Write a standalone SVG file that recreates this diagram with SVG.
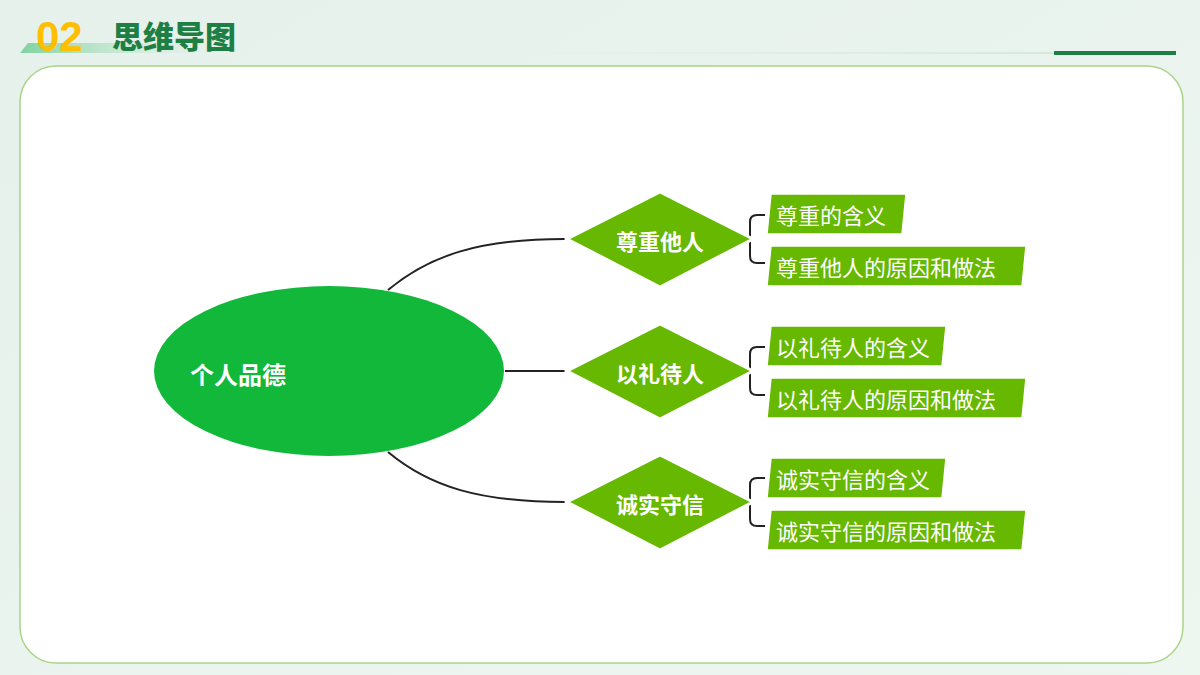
<svg xmlns="http://www.w3.org/2000/svg" width="1200" height="675" viewBox="0 0 1200 675">
<defs>
<linearGradient id="bg" x1="0" y1="0" x2="1" y2="1"><stop offset="0" stop-color="#e6f1ec"/><stop offset="1" stop-color="#eef6f0"/></linearGradient>
<linearGradient id="tab" x1="0" y1="0" x2="1" y2="0"><stop offset="0" stop-color="#7fd3a0"/><stop offset="1" stop-color="#e6f1ec" stop-opacity="0"/></linearGradient>
<linearGradient id="hl" x1="0" y1="0" x2="1" y2="0"><stop offset="0" stop-color="#d9ece0" stop-opacity="0"/><stop offset="1" stop-color="#cfe6d5"/></linearGradient>
<style>
.dia{fill:#66b800;stroke:#fff;stroke-width:3}
.box{fill:#66b800;stroke:#fff;stroke-width:1.5}
.dt{font-family:"Noto Sans CJK SC",sans-serif;font-weight:bold;font-size:22px;fill:#fff;text-anchor:middle;dominant-baseline:central}
.bt{font-family:"Noto Sans CJK SC",sans-serif;font-size:22px;fill:#fff;dominant-baseline:central}
.ln{fill:none;stroke:#222;stroke-width:2}
</style>
</defs>
<rect width="1200" height="675" fill="url(#bg)"/>
<polygon points="28,43 240,43 230,53 20,53" fill="url(#tab)"/>
<text x="36" y="51" font-family="Liberation Sans,sans-serif" font-weight="bold" font-size="42" fill="#ffbf00">02</text>
<text x="112" y="48" font-family="Noto Sans CJK SC,sans-serif" font-weight="900" font-size="31" fill="#1e7f45">思维导图</text>
<rect x="445" y="52" width="730" height="2" fill="url(#hl)"/>
<rect x="1054" y="51" width="122" height="4" fill="#1e7f45"/>
<rect x="20" y="66" width="1163" height="597" rx="36" fill="#fff" stroke="#a9d48a" stroke-width="1.5"/>
<g id="connectors">
<path class="ln" d="M388,290 C430,255 480,239 565,239"/>
<path class="ln" d="M505,371 H565"/>
<path class="ln" d="M388,452 C430,487 480,502 565,502"/>
<path class="ln" d="M735,239 H750 M765,215 H757 Q750,215 750,222 V256 Q750,263 757,263 H765"/>
<path class="ln" d="M735,371 H750 M765,347 H757 Q750,347 750,354 V388 Q750,395 757,395 H765"/>
<path class="ln" d="M735,502 H750 M765,478 H757 Q750,478 750,485 V519 Q750,526 757,526 H765"/>
</g>
<g id="root"><ellipse cx="329" cy="371" rx="175" ry="85" fill="#12b83a"/><text x="190" y="373" font-family="Noto Sans CJK SC,sans-serif" font-weight="bold" font-size="24" fill="#fff" dominant-baseline="central">个人品德</text></g>
<g id="n1"><polygon class="dia" points="660,192 753,239 660,287 567,239"/><text class="dt" x="660" y="240">尊重他人</text></g>
<g id="n2"><polygon class="dia" points="660,324 753,371 660,419 567,371"/><text class="dt" x="660" y="372">以礼待人</text></g>
<g id="n3"><polygon class="dia" points="660,455 753,502 660,550 567,502"/><text class="dt" x="660" y="503">诚实守信</text></g>
<g id="n1a"><polygon class="box" points="771,194 906,194 902,234 767,234"/><text class="bt" x="776" y="214">尊重的含义</text></g>
<g id="n1b"><polygon class="box" points="771,246 1026,246 1022,286 767,286"/><text class="bt" x="776" y="266">尊重他人的原因和做法</text></g>
<g id="n2a"><polygon class="box" points="771,326 946,326 942,366 767,366"/><text class="bt" x="776" y="346">以礼待人的含义</text></g>
<g id="n2b"><polygon class="box" points="771,378 1026,378 1022,418 767,418"/><text class="bt" x="776" y="398">以礼待人的原因和做法</text></g>
<g id="n3a"><polygon class="box" points="771,458 946,458 942,498 767,498"/><text class="bt" x="776" y="478">诚实守信的含义</text></g>
<g id="n3b"><polygon class="box" points="771,510 1026,510 1022,550 767,550"/><text class="bt" x="776" y="530">诚实守信的原因和做法</text></g>
</svg>
